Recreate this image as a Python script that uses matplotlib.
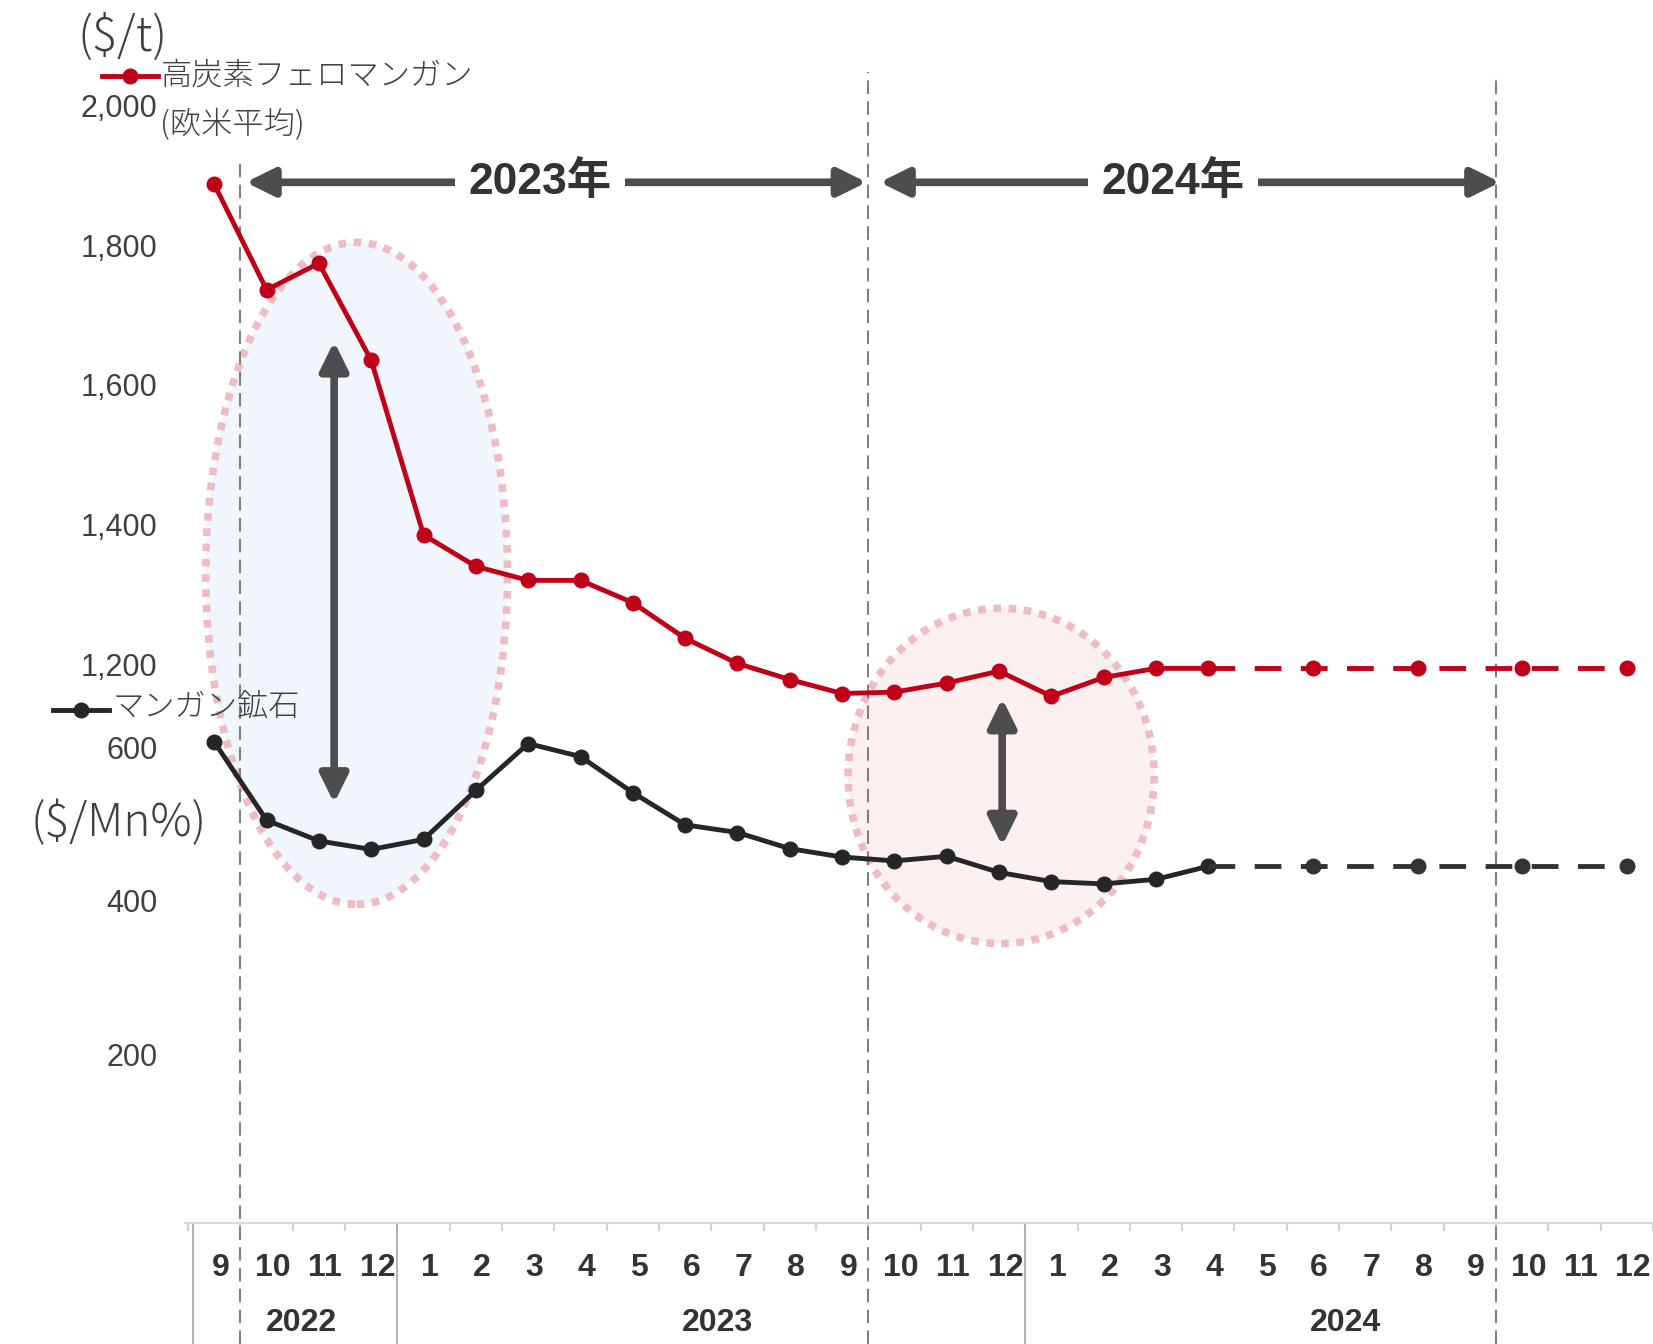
import matplotlib
matplotlib.use("Agg")
import matplotlib.pyplot as plt
from matplotlib import font_manager
from matplotlib.patches import Ellipse
from matplotlib.lines import Line2D
from matplotlib.transforms import ScaledTranslation

# ---- data ----
years = ["2022", "2023", "2024"]
month_labels = ["9", "10", "11", "12",
                "1", "2", "3", "4", "5", "6", "7", "8", "9", "10", "11", "12",
                "1", "2", "3", "4", "5", "6", "7", "8", "9", "10", "11", "12"]
year_of_month = ["2022"] * 4 + ["2023"] * 12 + ["2024"] * 12

# high-carbon ferro-manganese, $/t (2022/9 - 2024/4)
ferro = [1887, 1736, 1774, 1635, 1385, 1340, 1320, 1320, 1288, 1237, 1201, 1178,
         1158, 1160, 1173, 1190, 1154, 1181, 1194, 1194]
# manganese ore, $/Mn%
ore = [607, 505, 478, 467, 480, 544, 605, 588, 541, 499, 489, 468,
       457, 452, 458, 437, 425, 422, 428, 445]
# outlook (dashed) from 2024/4
fc_months = ["2024/4", "2024/6", "2024/8", "2024/10", "2024/12"]
ferro_fc = [1194, 1194, 1194, 1194, 1194]
ore_fc = [445, 445, 445, 445, 445]

ferro_ticks = [1200, 1400, 1600, 1800, 2000]
ore_ticks = [200, 400, 600]

keys = [f"{y}/{m}" for y, m in zip(year_of_month, month_labels)]
x_act = list(range(len(ferro)))
x_fc = [keys.index(k) for k in fc_months]

RED = "#c00018"
BLK = "#262626"
ARROW = "#4d4d4d"
TXT = "#404040"


def has_font(name):
    try:
        font_manager.findfont(name, fallback_to_default=False)
        return True
    except ValueError:
        return False


NARROW = has_font("Liberation Sans Narrow")
bold_fam = ["Liberation Sans Narrow" if NARROW else "Liberation Sans", "Noto Sans CJK JP", "DejaVu Sans"]
sz_month = 25 if NARROW else 23
sz_year = 26 if NARROW else 23
sz_banner = 35 if NARROW else 32
cjk = ["Noto Sans CJK JP", "DejaVu Sans"]

plt.rcParams["font.family"] = ["Liberation Sans", "Noto Sans CJK JP", "DejaVu Sans"]

FIG_W, FIG_H = 1653, 1344
fig = plt.figure(figsize=(FIG_W / 100, FIG_H / 100), dpi=100)
AX_L, AX_B = 184.5, 1222.9
ax = fig.add_axes([AX_L / FIG_W, 1 - AX_B / FIG_H, 1 - AX_L / FIG_W, AX_B / FIG_H])
ax2 = ax.twinx()

ax.set_xlim(-0.57, 27.35)
ax.set_ylim(-20, 1574.5)
ax2.set_ylim(400, 2151)


def fx(p):
    return p / FIG_W


def fy(p):
    return 1 - p / FIG_H


# highlight ellipses (drawn in ferro units, behind everything)
ax.add_patch(Ellipse((2.72, 1330), 5.77, 948, transform=ax2.transData,
                     facecolor="#f0f6fb", edgecolor="#efbcc5", lw=5.5,
                     linestyle=(0, (1, 1)), zorder=1))
ax.add_patch(Ellipse((15.04, 1040), 5.85, 480, transform=ax2.transData,
                     facecolor="#fbf0f0", edgecolor="#efbcc5", lw=5.5,
                     linestyle=(0, (1, 1)), zorder=1))

# dashed separators
for xv, top in [(0.5, 0.871), (12.5, 0.941), (24.5, 0.94)]:
    ax.axvline(xv, ymin=-0.099, ymax=top, color="#808080", lw=1.5,
               linestyle=(0, (6.5, 3.5)), clip_on=False, zorder=2)

# year group dividers below the axis
for xv in [-0.4, 3.5, 15.5]:
    ax.axvline(xv, ymin=-0.099, ymax=0, color="#a6a6a6", lw=1.2, clip_on=False)

# series
ax.plot(x_act, ore, color=BLK, lw=3.5, marker="o", ms=10.5, zorder=4)
ax.plot(x_fc, ore_fc, color="#333333", lw=3.5, marker="o", ms=10.5,
        markevery=[1, 2, 3, 4], linestyle=(0, (5.5, 4)), zorder=4)
ax2.plot(x_act, ferro, color=RED, lw=3.5, marker="o", ms=10.5, zorder=4)
ax2.plot(x_fc, ferro_fc, color=RED, lw=3.5, marker="o", ms=10.5,
         markevery=[1, 2, 3, 4], linestyle=(0, (5.5, 4)), zorder=4)

# arrows
astyle = "<|-|>,head_length=0.85,head_width=0.42"
for (x0, y0, x1, y1) in [(0.6, 1890, 12.47, 1890), (12.72, 1890, 24.58, 1890),
                         (2.29, 1001, 2.29, 1662), (15.06, 940, 15.06, 1151)]:
    ax2.annotate("", xy=(x1, y1), xytext=(x0, y0),
                 arrowprops=dict(arrowstyle=astyle, color=ARROW, lw=5.5,
                                 mutation_scale=20, shrinkA=0, shrinkB=0))
for xv, lab in [(6.22, "2023年"), (18.33, "2024年")]:
    ax2.text(xv, 1890, lab, ha="center", va="center", fontsize=sz_banner,
             fontweight="bold", family=bold_fam, color="#333333",
             bbox=dict(boxstyle="square,pad=0.3", fc="white", ec="none"))

# axes styling
for a in (ax, ax2):
    for s in a.spines.values():
        s.set_visible(False)
ax.spines["bottom"].set_visible(True)
ax.spines["bottom"].set_color("#d9d9d9")
ax.spines["bottom"].set_linewidth(1.5)

ax.set_yticks(ore_ticks, [f"{v:,}" for v in ore_ticks])
ax2.set_yticks(ferro_ticks, [f"{v:,}" for v in ferro_ticks])
ax2.yaxis.tick_left()
for a in (ax, ax2):
    a.tick_params(axis="y", length=0, pad=19.5, labelsize=22, labelcolor=TXT)

ax.set_xticks(range(len(month_labels)), month_labels)
ax.set_xticks([i + 0.5 for i in range(-1, len(month_labels))], minor=True)
ax.tick_params(axis="x", which="major", length=0, pad=22, labelcolor="#333333")
ax.tick_params(axis="x", which="minor", length=6, width=1.5, color="#d0d0d0")
nudge = ScaledTranslation(4.5 / 72, 0, fig.dpi_scale_trans)
for t in ax.get_xticklabels():
    t.set_fontsize(sz_month)
    t.set_fontweight("bold")
    t.set_family(bold_fam)
    t.set_transform(t.get_transform() + nudge)

bounds = [-0.4, 3.5, 15.5, 27.5]
for i, y in enumerate(years):
    ax.annotate(y, xy=((bounds[i] + bounds[i + 1]) / 2, 0),
                xycoords=("data", "axes fraction"), xytext=(6, -108),
                textcoords="offset pixels", ha="center", va="baseline",
                fontsize=sz_year, fontweight="bold", family=bold_fam, color="#333333")

# unit labels and in-chart legend
fig.text(fx(123), fy(37), "($/t)", ha="center", va="center", fontsize=34,
         family=cjk, fontweight="light", color=TXT)
fig.text(fx(119), fy(823), "($/Mn%)", ha="center", va="center", fontsize=33,
         family=cjk, fontweight="light", color=TXT)

fig.add_artist(Line2D([fx(102), fx(158)], [fy(76), fy(76)], color=RED, lw=3.5))
fig.add_artist(Line2D([fx(130)], [fy(76)], color=RED, marker="o", ms=10.5))
fig.text(fx(161), fy(76), "高炭素フェロマンガン", ha="left", va="center",
         fontsize=22.5, family=cjk, fontweight="light", color=TXT)
fig.text(fx(160), fy(125), "(欧米平均)", ha="left", va="center",
         fontsize=22.5, family=cjk, fontweight="light", color=TXT)

fig.add_artist(Line2D([fx(53), fx(109)], [fy(710), fy(710)], color=BLK, lw=3.5))
fig.add_artist(Line2D([fx(81)], [fy(710)], color=BLK, marker="o", ms=10.5))
fig.text(fx(113), fy(707), "マンガン鉱石", ha="left", va="center",
         fontsize=22.5, family=cjk, fontweight="light", color=TXT)

fig.savefig("out.png", dpi=100)
